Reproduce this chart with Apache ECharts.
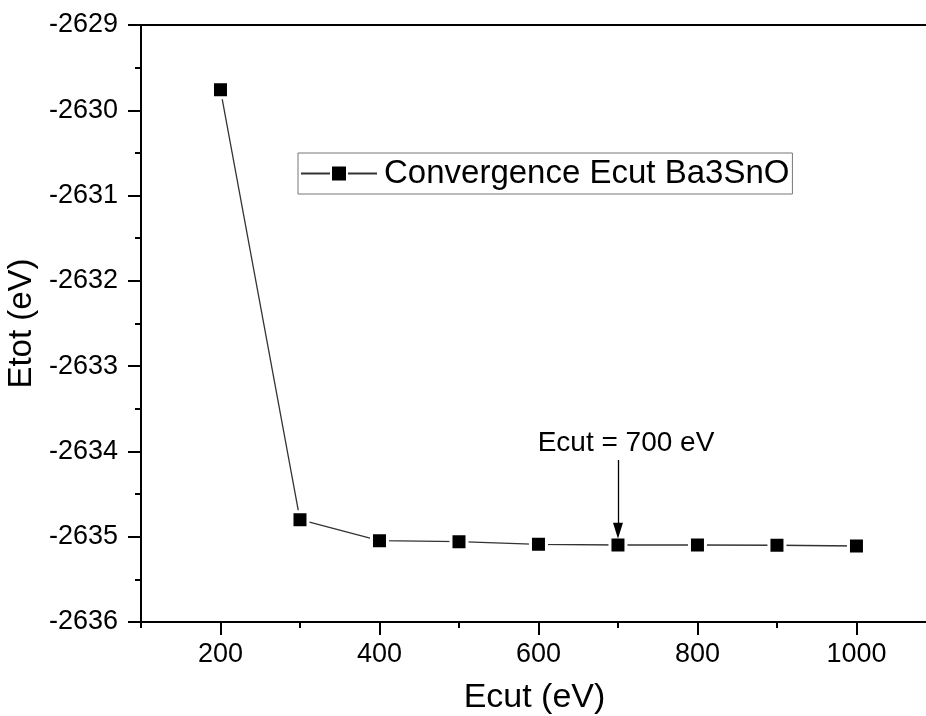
<!DOCTYPE html>
<html>
<head>
<meta charset="utf-8">
<script src="https://cdn.jsdelivr.net/npm/echarts@6/dist/echarts.min.js"></script>
<style>
html,body{margin:0;padding:0;background:#fff;}
#chart{width:926px;height:716px;}
</style>
</head>
<body>
<div id="chart"></div>
<script>
// Data
const ecut = [200, 300, 400, 500, 600, 700, 800, 900, 1000];
const etot = [-2629.76, -2634.80, -2635.046, -2635.058, -2635.089, -2635.097, -2635.097, -2635.10, -2635.109];
const seriesName = 'Convergence Ecut Ba3SnO';
const xMajorTicks = [200, 400, 600, 800, 1000];
const xMinorTicks = [100, 300, 500, 700, 900];
// Annotation (data units)
const annotText = 'Ecut = 700 eV';
const annotX = 700;
const annotTextY = -2633.90;
const arrowFromY = -2634.10;
const arrowToY = -2634.93;

const font = '"Liberation Sans", Arial, sans-serif';
const plain = v => String(v);
const chart = echarts.init(document.getElementById('chart'));
chart.setOption({
  animation: false,
  backgroundColor: '#fff',
  textStyle: { fontFamily: font, color: '#000' },
  grid: { left: 141, top: 25, bottom: 94, width: 787, containLabel: false, outerBoundsMode: 'none' },
  legend: {
    show: true,
    left: 298, top: 153,
    orient: 'horizontal',
    itemWidth: 76, itemHeight: 20,
    itemGap: 0,
    padding: [4, 3, 4, 2],
    borderColor: '#777', borderWidth: 1,
    textStyle: { fontSize: 33, fontFamily: font, color: '#000', padding: [0, 0, 0, 2] },
    data: [seriesName]
  },
  xAxis: [
    {
      type: 'value', min: 100, max: 1090,
      position: 'bottom',
      axisLine: { show: true, onZero: false, lineStyle: { color: '#000', width: 2 } },
      axisTick: { show: true, length: 13, lineStyle: { color: '#000', width: 2 }, customValues: xMajorTicks },
      axisLabel: { show: true, fontSize: 27, fontFamily: font, color: '#000', margin: 19, customValues: xMajorTicks, formatter: plain },
      splitLine: { show: false },
      name: 'Ecut (eV)', nameLocation: 'middle', nameGap: 59,
      nameTextStyle: { fontSize: 34, fontFamily: font, color: '#000' }
    },
    {
      type: 'value', min: 100, max: 1090,
      position: 'bottom',
      axisLine: { show: false, onZero: false },
      axisTick: { show: true, length: 6, lineStyle: { color: '#000', width: 2 }, customValues: xMinorTicks },
      axisLabel: { show: false, customValues: xMinorTicks },
      splitLine: { show: false }
    },
    {
      type: 'value', min: 100, max: 1090,
      position: 'top',
      axisLine: { show: true, onZero: false, lineStyle: { color: '#000', width: 2 } },
      axisTick: { show: false },
      axisLabel: { show: false },
      splitLine: { show: false }
    }
  ],
  yAxis: {
    type: 'value', min: -2636, max: -2629, interval: 1,
    axisLine: { show: true, onZero: false, lineStyle: { color: '#000', width: 2 } },
    axisTick: { show: true, length: 13, lineStyle: { color: '#000', width: 2 } },
    minorTick: { show: true, splitNumber: 2, length: 6, lineStyle: { color: '#000', width: 2 } },
    axisLabel: { show: true, fontSize: 27, fontFamily: font, color: '#000', margin: 23, formatter: plain },
    splitLine: { show: false },
    minorSplitLine: { show: false },
    name: 'Etot (eV)', nameLocation: 'middle', nameGap: 98,
    nameTextStyle: { fontSize: 33, fontFamily: font, color: '#000' }
  },
  series: [{
    name: seriesName,
    type: 'line',
    xAxisIndex: 0,
    data: ecut.map((x, i) => [x, etot[i]]),
    symbol: 'rect',
    symbolSize: 16,
    itemStyle: { color: '#000', borderColor: '#fff', borderWidth: 3 },
    lineStyle: { color: '#333', width: 1.3 },
    z: 3,
    markLine: {
      silent: true,
      symbol: ['none', 'triangle'],
      symbolSize: [10, 16],
      lineStyle: { color: '#000', width: 1.3, type: 'solid' },
      label: { show: false },
      data: [[{ coord: [annotX, arrowFromY] }, { coord: [annotX, arrowToY] }]]
    },
    markPoint: {
      silent: true,
      symbol: 'circle', symbolSize: 0,
      label: { show: true, formatter: annotText, fontSize: 28, fontFamily: font, color: '#000', offset: [8, 0] },
      data: [{ coord: [annotX, annotTextY] }]
    }
  }]
});
</script>
</body>
</html>
